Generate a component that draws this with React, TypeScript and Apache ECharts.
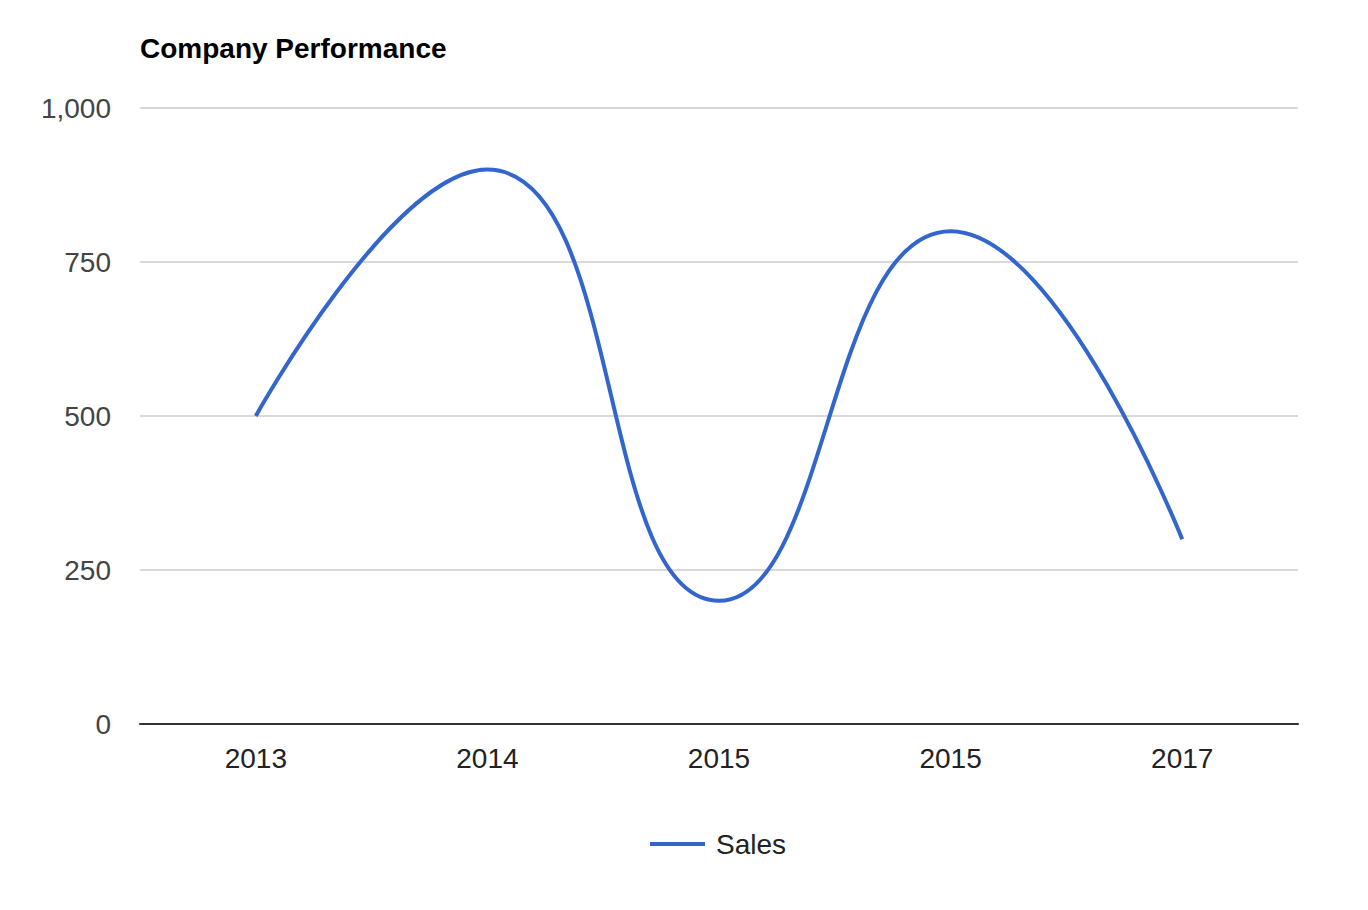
import React, { useEffect, useRef } from "react";
import * as echarts from "echarts";

const categories = ["2013", "2014", "2015", "2015", "2017"];
const salesValues = [500, 900, 200, 800, 300];
const yTicks = [0, 250, 500, 750, 1000];

export default function App() {
  const ref = useRef<HTMLDivElement>(null);
  useEffect(() => {
    document.body.style.margin = "0";
    const chart = echarts.init(ref.current!, null, { renderer: "svg" });
    chart.setOption({
      animation: false,
      backgroundColor: "#ffffff",
      textStyle: { fontFamily: "Liberation Sans, Arial, sans-serif" },
      title: {
        text: "Company Performance",
        left: 140,
        top: 34,
        padding: 0,
        textStyle: { fontSize: 28, fontWeight: "bold", color: "#000000", fontFamily: "Liberation Sans, Arial, sans-serif" },
      },
      grid: { left: 140, right: 70, top: 108, bottom: 186, containLabel: false },
      xAxis: {
        type: "category",
        data: categories,
        boundaryGap: true,
        axisLine: { show: true, lineStyle: { color: "#333333", width: 2 } },
        axisTick: { show: false },
        axisLabel: { margin: 20, fontSize: 28, color: "#222222" },
        splitLine: { show: false },
      },
      yAxis: {
        type: "value",
        min: yTicks[0],
        max: yTicks[yTicks.length - 1],
        interval: 250,
        axisLine: { show: false },
        axisTick: { show: false },
        axisLabel: {
          margin: 29,
          fontSize: 28,
          color: "#444444",
          formatter: (v: number) => v.toLocaleString("en-US"),
        },
        splitLine: { show: true, lineStyle: { color: "#cccccc", width: 1.5 } },
      },
      legend: {
        top: 830,
        left: 650,
        padding: 0,
        itemWidth: 55,
        itemHeight: 26,
        itemGap: 10,
        textStyle: { fontSize: 28, color: "#222222", padding: [0, 0, 0, 6] },
        data: [{ name: "Sales", icon: "path://M0,0 L55,0 L55,4 L0,4 Z" }],
      },
      series: [
        {
          name: "Sales",
          type: "line",
          data: salesValues,
          smooth: 0.5,
          smoothConstraint: false,
          symbol: "none",
          lineStyle: { color: "#3366cc", width: 4 },
          itemStyle: { color: "#3366cc" },
        },
      ],
    });
    return () => chart.dispose();
  }, []);
  return <div ref={ref} style={{ width: 1368, height: 910 }} />;
}
